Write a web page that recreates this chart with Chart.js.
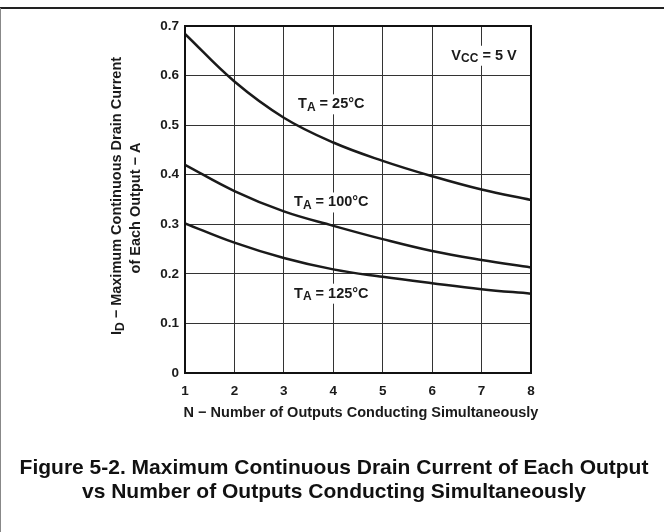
<!DOCTYPE html>
<html>
<head>
<meta charset="utf-8">
<script src="https://cdn.jsdelivr.net/npm/chart.js@4/dist/chart.umd.min.js"></script>
<style>
html,body{margin:0;padding:0;background:#fff;}
#wrap{width:664px;height:532px;position:relative;}
</style>
</head>
<body>
<div id="wrap"><canvas id="c" width="664" height="532"></canvas></div>
<script>
// Data
const outputsN = [1, 2, 3, 4, 5, 6, 7, 8];
const current25C = [0.684, 0.588, 0.515, 0.465, 0.428, 0.397, 0.370, 0.349];
const current100C = [0.420, 0.367, 0.326, 0.297, 0.270, 0.246, 0.228, 0.213];
const current125C = [0.302, 0.263, 0.232, 0.209, 0.194, 0.181, 0.169, 0.160];
const yTicks = [0, 0.1, 0.2, 0.3, 0.4, 0.5, 0.6, 0.7];
const xTicks = [1, 2, 3, 4, 5, 6, 7, 8];
const seriesLabels = ['25°C', '100°C', '125°C'];

const FONT = '"Liberation Sans", Arial, sans-serif';
const INK = '#1a1a1a';

function pts(vals){ return outputsN.map((n,i)=>({x:n, y:vals[i]})); }

function partsWidth(ctx, parts){
  let w=0; parts.forEach(p=>{ctx.font=p.sub?p.subFont:p.font; w+=ctx.measureText(p.t).width;}); return w;
}
function subText(ctx, parts, x, y){
  const total = partsWidth(ctx, parts);
  let cx = x - total/2;
  ctx.textAlign='left';
  parts.forEach(p=>{
    ctx.font = p.sub ? p.subFont : p.font;
    ctx.fillText(p.t, cx, y + (p.sub ? p.dy : 0));
    cx += ctx.measureText(p.t).width;
  });
  return total;
}

const decor = {
  id:'decor',
  beforeDraw(chart){
    const ctx = chart.ctx;
    ctx.save();
    ctx.fillStyle='#fff';
    ctx.fillRect(0,0,chart.width,chart.height);
    ctx.strokeStyle='#222'; ctx.lineWidth=2;
    ctx.beginPath(); ctx.moveTo(0,8); ctx.lineTo(664,8); ctx.stroke();
    ctx.strokeStyle='#888'; ctx.lineWidth=1;
    ctx.beginPath(); ctx.moveTo(0.5,8); ctx.lineTo(0.5,532); ctx.stroke();
    ctx.restore();
  },
  beforeDatasetsDraw(chart){
    // white boxes behind the in-plot labels (break the grid lines, as in the reference)
    const ctx = chart.ctx;
    const xs = chart.scales.x, ys = chart.scales.y;
    ctx.save();
    ctx.fillStyle='#fff';
    const labelX = xs.getPixelForValue(4) - 2;
    [0.542, 0.344, 0.16].forEach(v=>{
      const y = ys.getPixelForValue(v);
      ctx.fillRect(labelX - 40, y - 10, 80, 20);
    });
    const vy = ys.getPixelForValue(0.64);
    ctx.fillRect(484 - 38, vy - 10, 76, 20);
    ctx.restore();
  },
  afterDraw(chart){
    const ctx = chart.ctx;
    const xs = chart.scales.x, ys = chart.scales.y;
    ctx.save();
    ctx.fillStyle = INK;
    ctx.textBaseline='middle';
    const fLab = 'bold 14.5px '+FONT, fSub = 'bold 12px '+FONT, fTitle='bold 14.5px '+FONT;

    const labelX = xs.getPixelForValue(4) - 2;
    const labelYs = [0.542, 0.344, 0.16];
    seriesLabels.forEach((s,i)=>{
      const parts=[{t:'T',font:fLab},{t:'A',sub:true,subFont:fSub,dy:3},{t:' = '+s,font:fLab}];
      subText(ctx, parts, labelX, ys.getPixelForValue(labelYs[i]));
    });
    subText(ctx, [{t:'V',font:fLab},{t:'CC',sub:true,subFont:fSub,dy:3},{t:' = 5 V',font:fLab}], 484, ys.getPixelForValue(0.64));

    // x axis title
    ctx.font = fTitle; ctx.textAlign='center';
    ctx.fillText('N \u2212 Number of Outputs Conducting Simultaneously', 361, 413);

    // y axis title (rotated)
    ctx.save();
    ctx.translate(117, 196);
    ctx.rotate(-Math.PI/2);
    subText(ctx, [{t:'I',font:fTitle},{t:'D',sub:true,subFont:fSub,dy:4},{t:' \u2212 Maximum Continuous Drain Current',font:fTitle}], 0, 0);
    ctx.restore();
    ctx.save();
    ctx.translate(136, 208);
    ctx.rotate(-Math.PI/2);
    ctx.font=fTitle; ctx.textAlign='center';
    ctx.fillText('of Each Output \u2212 A', 0, 0);
    ctx.restore();

    // caption
    ctx.font = 'bold 21px '+FONT;
    ctx.fillStyle='#111';
    ctx.textAlign='center';
    ctx.fillText('Figure 5-2. Maximum Continuous Drain Current of Each Output', 334, 468);
    ctx.fillText('vs Number of Outputs Conducting Simultaneously', 334, 492);
    ctx.restore();
  }
};

const ds = (vals)=>({
  data: pts(vals),
  borderColor: INK,
  borderWidth: 2.5,
  pointRadius: 0,
  fill: false,
  tension: 0.4
});

new Chart(document.getElementById('c'), {
  type: 'line',
  data: { datasets: [ds(current25C), ds(current100C), ds(current125C)] },
  options: {
    responsive: false,
    animation: false,
    devicePixelRatio: 1,
    layout: { padding: { left: 145, top: 26, right: 133, bottom: 129 } },
    plugins: { legend: { display: false }, tooltip: { enabled: false } },
    scales: {
      x: {
        type: 'linear', min: 1, max: 8,
        afterFit(s){ s.height = 30; },
        afterBuildTicks(s){ s.ticks = xTicks.map(v=>({value:v})); },
        grid: { color: '#333', lineWidth: 1, drawTicks: false },
        border: { color: '#111', width: 2 },
        ticks: { color: INK, font: { family: FONT, weight: 'bold', size: 13.5 }, padding: 10, maxRotation: 0 }
      },
      y: {
        type: 'linear', min: 0, max: 0.7,
        afterFit(s){ s.width = 40; },
        afterBuildTicks(s){ s.ticks = yTicks.map(v=>({value:v})); },
        grid: { color: '#333', lineWidth: 1, drawTicks: false },
        border: { color: '#111', width: 2 },
        ticks: { color: INK, font: { family: FONT, weight: 'bold', size: 13.5 }, padding: 6,
          callback: v => v === 0 ? '0' : v.toFixed(1) }
      }
    }
  },
  plugins: [decor, {
    id:'frameTopRight',
    afterDatasetsDraw(chart){
      const {ctx, chartArea:a} = chart;
      ctx.save(); ctx.strokeStyle='#111'; ctx.lineWidth=2;
      ctx.strokeRect(a.left, a.top, a.right-a.left, a.bottom-a.top);
      ctx.restore();
    }
  }]
});
</script>
</body>
</html>
